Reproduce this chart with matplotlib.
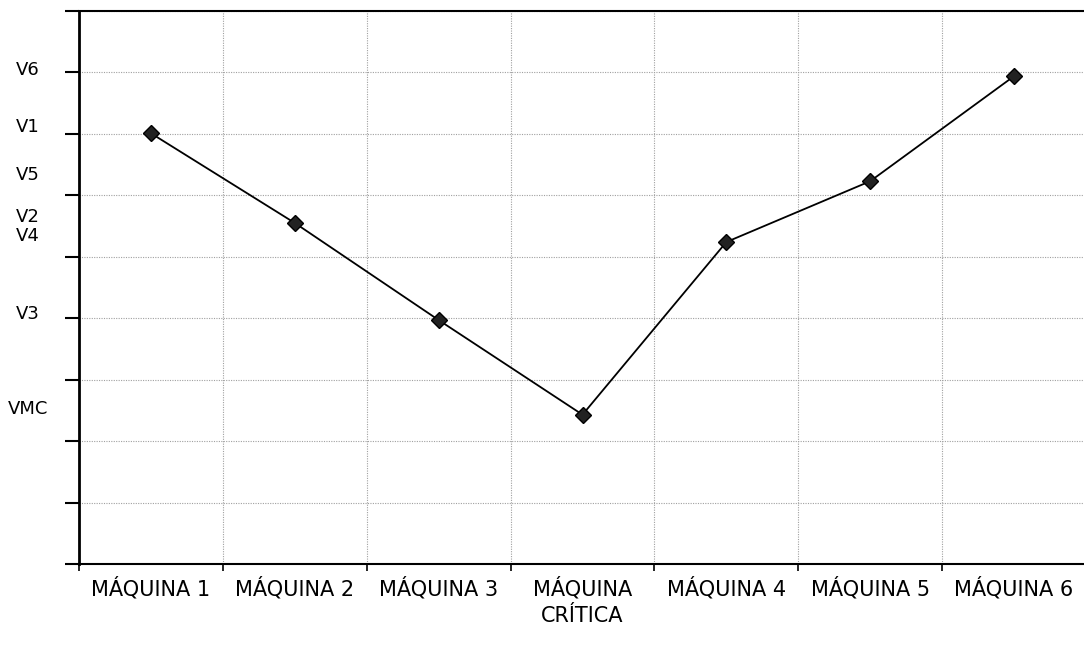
import matplotlib
matplotlib.use("Agg")
import matplotlib.pyplot as plt
import matplotlib.transforms as mtransforms
import numpy as np

categories = ["MÁQUINA 1", "MÁQUINA 2", "MÁQUINA 3", "MÁQUINA\nCRÍTICA",
              "MÁQUINA 4", "MÁQUINA 5", "MÁQUINA 6"]
values = [7.01, 5.55, 3.97, 2.43, 5.24, 6.23, 7.94]
value_labels = ["V1", "V2", "V3", "VMC", "V4", "V5", "V6"]

fig = plt.figure(figsize=(10.84, 6.53), dpi=100)
ax = fig.add_axes([79/1084, 89/653, (1086-79)/1084, (564-11)/653])

x = np.arange(len(categories)) + 0.5
ax.plot(x, values, color="black", lw=1.3, marker="D", ms=8,
        mfc="#222222", mec="black", zorder=3)

ax.set_xlim(0, len(categories))
ax.set_ylim(0, 9)

ax.set_xticks(np.arange(0, len(categories) + 1))
ax.set_xticklabels([])
ax.set_xticks(x, minor=True)
ax.set_xticklabels(categories, minor=True, fontsize=15,
                   family=["DejaVu Sans Condensed", "DejaVu Sans"],
                   linespacing=1.45)
ax.tick_params(axis="x", which="minor", length=0, pad=9)
ax.tick_params(axis="x", which="major", length=5, width=1.2, direction="out")
ax.set_yticks(np.arange(0, 10))
ax.set_yticklabels([])
ax.tick_params(axis="y", which="major", length=10, width=1.5, direction="out")
ax.grid(True, which="major", color="#a0a0a0", lw=0.8, ls=(0, (1, 1.2)))

trans = mtransforms.blended_transform_factory(fig.transFigure, ax.transData)
for v, lab in zip(values, value_labels):
    ax.text(28/1084, v + 0.1, lab, transform=trans, ha="center", va="center",
            fontsize=13, family=["DejaVu Sans Condensed", "DejaVu Sans"])

for s in ["left", "bottom", "top"]:
    ax.spines[s].set_color("black")
ax.spines["left"].set_linewidth(2)
ax.spines["bottom"].set_linewidth(1.5)
ax.spines["top"].set_linewidth(1.5)
ax.spines["right"].set_visible(False)

fig.savefig("out.png", dpi=100)
